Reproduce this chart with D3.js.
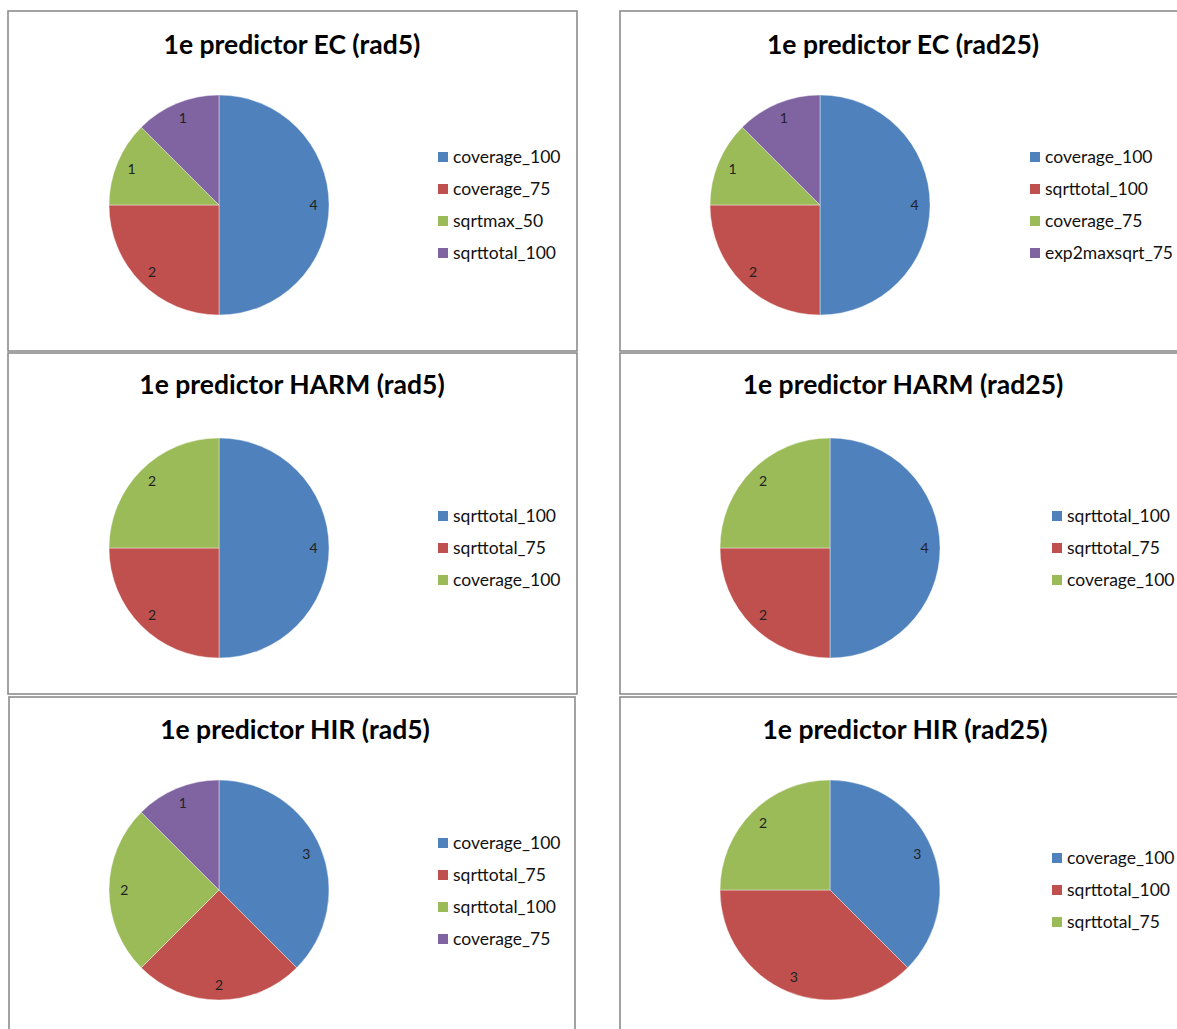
<!DOCTYPE html>
<html>
<head>
<meta charset="utf-8">
<script src="https://cdn.jsdelivr.net/npm/d3@7"></script>
<style>
  html, body { margin: 0; padding: 0; background: #fff; }
  svg { display: block; }
</style>
</head>
<body>
<svg id="chart" width="1177" height="1029"></svg>
<script>
// Number of times each setting came out as the first predictor
const titles = [
  "1e predictor EC (rad5)", "1e predictor EC (rad25)",
  "1e predictor HARM (rad5)", "1e predictor HARM (rad25)",
  "1e predictor HIR (rad5)", "1e predictor HIR (rad25)"
];
const ecRad5Labels = ["coverage_100", "coverage_75", "sqrtmax_50", "sqrttotal_100"];
const ecRad5Values = [4, 2, 1, 1];
const ecRad25Labels = ["coverage_100", "sqrttotal_100", "coverage_75", "exp2maxsqrt_75"];
const ecRad25Values = [4, 2, 1, 1];
const harmRad5Labels = ["sqrttotal_100", "sqrttotal_75", "coverage_100"];
const harmRad5Values = [4, 2, 2];
const harmRad25Labels = ["sqrttotal_100", "sqrttotal_75", "coverage_100"];
const harmRad25Values = [4, 2, 2];
const hirRad5Labels = ["coverage_100", "sqrttotal_75", "sqrttotal_100", "coverage_75"];
const hirRad5Values = [3, 2, 2, 1];
const hirRad25Labels = ["coverage_100", "sqrttotal_100", "sqrttotal_75"];
const hirRad25Values = [3, 3, 2];
const sliceColors = ["#4F81BD", "#C0504D", "#9BBB59", "#8064A2"];

// Chart frames: box, pie centre, legend placement
const panels = [
  { box: [8, 11, 577, 351], cx: 219, cy: 205, titleX: 292, titleY: 54, legX: 438, legY: 157, labels: ecRad5Labels, values: ecRad5Values },
  { box: [620, 11, 1180, 351], cx: 820, cy: 205, titleX: 903, titleY: 54, legX: 1030, legY: 157, labels: ecRad25Labels, values: ecRad25Values },
  { box: [8, 353, 577, 694], cx: 219, cy: 548, titleX: 292, titleY: 394, legX: 438, legY: 516, labels: harmRad5Labels, values: harmRad5Values },
  { box: [620, 353, 1180, 694], cx: 830, cy: 548, titleX: 903, titleY: 394, legX: 1052, legY: 516, labels: harmRad25Labels, values: harmRad25Values },
  { box: [9, 697, 575, 1040], cx: 219, cy: 890, titleX: 295, titleY: 739, legX: 438, legY: 843, labels: hirRad5Labels, values: hirRad5Values },
  { box: [620, 697, 1180, 1040], cx: 830, cy: 890, titleX: 905, titleY: 739, legX: 1052, legY: 858, labels: hirRad25Labels, values: hirRad25Values }
];

const svg = d3.select("#chart");
const font = "Lato, 'Open Sans', sans-serif";
const radius = 110;
const pie = d3.pie().sort(null).value(d => d.value);
const arc = d3.arc().innerRadius(0).outerRadius(radius);
const labelArc = d3.arc().innerRadius(radius * 0.86).outerRadius(radius * 0.86);

panels.forEach((p, i) => {
  const [x0, y0, x1, y1] = p.box;
  svg.append("rect")
    .attr("x", x0).attr("y", y0)
    .attr("width", x1 - x0).attr("height", y1 - y0)
    .attr("fill", "#fff")
    .attr("stroke", "#8c8c8c")
    .attr("stroke-width", 1.6);

  svg.append("text")
    .attr("x", p.titleX).attr("y", p.titleY)
    .attr("text-anchor", "middle")
    .attr("font-family", font)
    .attr("font-weight", "bold")
    .attr("font-size", 26.5)
    .attr("fill", "#000")
    .text(titles[i]);

  const data = p.labels.map((name, k) => ({ name, value: p.values[k], color: sliceColors[k] }));
  const g = svg.append("g").attr("transform", `translate(${p.cx},${p.cy})`);
  const arcs = pie(data);

  g.selectAll("path.slice")
    .data(arcs)
    .join("path")
    .attr("class", "slice")
    .attr("d", arc)
    .attr("fill", d => d.data.color)
    .attr("stroke", "#fff")
    .attr("stroke-width", 0.4);

  g.selectAll("text.val")
    .data(arcs)
    .join("text")
    .attr("class", "val")
    .attr("transform", d => `translate(${labelArc.centroid(d)})`)
    .attr("text-anchor", "middle")
    .attr("dy", "0.35em")
    .attr("font-family", font)
    .attr("font-size", 14)
    .attr("fill", "#222")
    .text(d => d.data.value);

  const leg = svg.append("g").attr("transform", `translate(${p.legX},${p.legY})`);
  const rows = leg.selectAll("g.row")
    .data(data)
    .join("g")
    .attr("class", "row")
    .attr("transform", (d, k) => `translate(0,${k * 32})`);
  rows.append("rect")
    .attr("x", 0).attr("y", -5)
    .attr("width", 10).attr("height", 10)
    .attr("fill", d => d.color);
  rows.append("text")
    .attr("x", 15).attr("y", 0)
    .attr("dy", "0.35em")
    .attr("font-family", font)
    .attr("font-size", 17.5)
    .attr("fill", "#111")
    .text(d => d.name);
});
</script>
</body>
</html>
